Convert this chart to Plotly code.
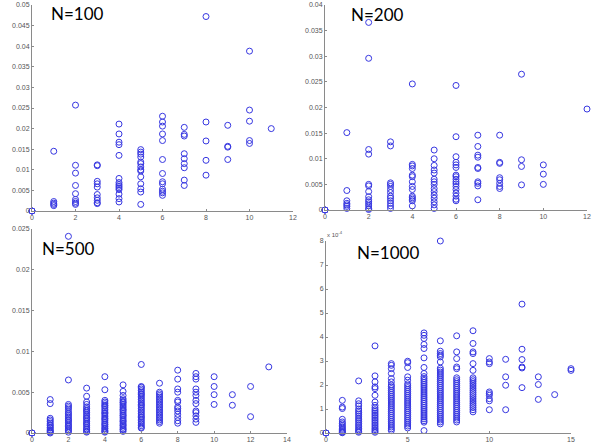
import plotly.graph_objects as go

# ---- data: one list of y-values per integer x (index = x) ----
n100_cols = [
    [0, 0, 0],
    [0.0145, 0.0023, 0.0019, 0.0016, 0.0013],
    [0.0257, 0.0111, 0.0092, 0.0062, 0.0042, 0.0028, 0.0023, 0.0019, 0.0016],
    [0.0112, 0.0110, 0.0072, 0.0066, 0.0058, 0.0040, 0.0032, 0.0026, 0.0020, 0.0018],
    [0.0211, 0.0187, 0.0167, 0.0161, 0.0135, 0.0079, 0.0069, 0.0064, 0.0060, 0.0056, 0.0052, 0.0041, 0.0030, 0.0022],
    [0.0149, 0.0143, 0.0138, 0.0131, 0.0119, 0.0115, 0.0107, 0.0100, 0.0097, 0.0083, 0.0066, 0.0054, 0.0046, 0.0016],
    [0.0230, 0.0216, 0.0206, 0.0187, 0.0171, 0.0125, 0.0091, 0.0071, 0.0066, 0.0053, 0.0048, 0.0044, 0.0038],
    [0.0203, 0.0186, 0.0182, 0.0139, 0.0127, 0.0115, 0.0105, 0.0075, 0.0062],
    [0.0472, 0.0216, 0.0170, 0.0123, 0.0087],
    [0.0208, 0.0157, 0.0155, 0.0125],
    [0.0388, 0.0245, 0.0218, 0.0171, 0.0164],
    [0.0200],
]

n200_cols = [
    [0, 0, 0],
    [0.0151, 0.0038, 0.0018, 0.0013, 0.0010, 0.0007, 0.0003],
    [0.0366, 0.0296, 0.0118, 0.0109, 0.0050, 0.0047, 0.0036, 0.0026, 0.0020, 0.0016, 0.0012, 0.0008, 0.0003, 0.0001],
    [0.0133, 0.0125, 0.0053, 0.0050, 0.0046, 0.0040, 0.0034, 0.0027, 0.0023, 0.0018, 0.0013, 0.0008, 0.0003],
    [0.0246, 0.0089, 0.0086, 0.0081, 0.0068, 0.0065, 0.0055, 0.0046, 0.0040, 0.0027, 0.0024, 0.0021, 0.0018, 0.0008],
    [0.0117, 0.0100, 0.0087, 0.0078, 0.0072, 0.0060, 0.0055, 0.0050, 0.0042, 0.0036, 0.0029, 0.0023, 0.0016, 0.0010, 0.0003],
    [0.0243, 0.0143, 0.0104, 0.0093, 0.0088, 0.0083, 0.0068, 0.0065, 0.0060, 0.0055, 0.0051, 0.0046, 0.0040, 0.0033, 0.0027, 0.0021, 0.0018],
    [0.0146, 0.0124, 0.0107, 0.0103, 0.0083, 0.0081, 0.0055, 0.0052, 0.0047, 0.0020],
    [0.0146, 0.0093, 0.0091, 0.0063, 0.0059, 0.0052, 0.0046, 0.0042],
    [0.0265, 0.0098, 0.0085, 0.0049],
    [0.0088, 0.0070, 0.0050],
    [],
    [0.0197],
]

n500_cols = [
    [0, 0, 0],
    [0.0041, 0.0036, 0.0018, 0.0016, 0.0014, 0.0012, 0.0010, 0.0009, 0.0007, 0.0006, 0.0004, 0.0003, 0.0002, 0.0001, 0.0000],
    [0.0241, 0.0065, 0.0035, 0.0033, 0.0031, 0.0029, 0.0026, 0.0024, 0.0022, 0.0020, 0.0018, 0.0016, 0.0015, 0.0013, 0.0011, 0.0009, 0.0008, 0.0006, 0.0004, 0.0003, 0.0001],
    [0.0055, 0.0045, 0.0038, 0.0035, 0.0032, 0.0030, 0.0028, 0.0027, 0.0025, 0.0023, 0.0021, 0.0019, 0.0018, 0.0016, 0.0014, 0.0012, 0.0011, 0.0009, 0.0007, 0.0005, 0.0004, 0.0002, 0.0001],
    [0.0069, 0.0053, 0.0040, 0.0038, 0.0036, 0.0034, 0.0033, 0.0031, 0.0029, 0.0027, 0.0025, 0.0024, 0.0022, 0.0020, 0.0018, 0.0017, 0.0015, 0.0013, 0.0011, 0.0010, 0.0008, 0.0006, 0.0005, 0.0003, 0.0002, 0.0001],
    [0.0059, 0.0051, 0.0046, 0.0042, 0.0040, 0.0038, 0.0037, 0.0035, 0.0033, 0.0031, 0.0029, 0.0028, 0.0026, 0.0024, 0.0022, 0.0021, 0.0019, 0.0017, 0.0015, 0.0014, 0.0012, 0.0010, 0.0009, 0.0007, 0.0005, 0.0004, 0.0002],
    [0.0084, 0.0057, 0.0056, 0.0054, 0.0052, 0.0050, 0.0048, 0.0047, 0.0045, 0.0043, 0.0041, 0.0039, 0.0037, 0.0035, 0.0034, 0.0032, 0.0030, 0.0028, 0.0026, 0.0024, 0.0022, 0.0020, 0.0019, 0.0017, 0.0015, 0.0013, 0.0011, 0.0009, 0.0007, 0.0006],
    [0.0061, 0.0050, 0.0048, 0.0046, 0.0044, 0.0042, 0.0040, 0.0038, 0.0036, 0.0034, 0.0032, 0.0030, 0.0028, 0.0026, 0.0024, 0.0022, 0.0020, 0.0018, 0.0016, 0.0014, 0.0012],
    [0.0077, 0.0066, 0.0054, 0.0050, 0.0040, 0.0038, 0.0032, 0.0030, 0.0027, 0.0023, 0.0019, 0.0015, 0.0012],
    [0.0073, 0.0069, 0.0066, 0.0054, 0.0050, 0.0046, 0.0040, 0.0036, 0.0027, 0.0025, 0.0021, 0.0017, 0.0013],
    [0.0069, 0.0057, 0.0047, 0.0035],
    [0.0047, 0.0034],
    [0.0057, 0.0020],
    [0.0081],
]

# N=1000 values in units of 1e-4
n1000_cols_e4 = [
    [0, 0, 0],
    [1.36, 1.08, 1.02, 0.57, 0.46, 0.39, 0.32, 0.26, 0.20, 0.15, 0.10, 0.06, 0.03, 0.01],
    [2.17, 1.34, 1.22, 1.13, 1.00, 0.92, 0.85, 0.78, 0.70, 0.62, 0.55, 0.48, 0.40, 0.33, 0.26, 0.19, 0.13, 0.07, 0.03],
    [3.63, 2.38, 2.13, 1.92, 1.85, 1.57, 1.29, 1.15, 1.05, 0.97, 0.90, 0.83, 0.76, 0.69, 0.62, 0.55, 0.48, 0.41, 0.34, 0.27, 0.20, 0.14, 0.08, 0.03],
    [2.89, 2.82, 2.68, 2.48, 2.27, 2.13, 2.00, 1.93, 1.85, 1.77, 1.69, 1.61, 1.53, 1.45, 1.37, 1.29, 1.21, 1.13, 1.05, 0.97, 0.89, 0.81, 0.73, 0.65, 0.57, 0.49, 0.41, 0.33, 0.25, 0.17, 0.10],
    [2.99, 2.93, 2.73, 2.34, 2.20, 2.05, 1.97, 1.89, 1.81, 1.73, 1.65, 1.57, 1.49, 1.41, 1.33, 1.25, 1.17, 1.09, 1.01, 0.93, 0.85, 0.77, 0.69, 0.61, 0.53, 0.45, 0.37, 0.29, 0.21],
    [4.17, 4.07, 3.94, 3.69, 3.52, 3.13, 2.73, 2.48, 2.35, 2.27, 2.19, 2.11, 2.03, 1.95, 1.87, 1.79, 1.71, 1.63, 1.55, 1.47, 1.39, 1.31, 1.23, 1.15, 1.07, 0.99, 0.91, 0.83, 0.75, 0.67, 0.59, 0.51, 0.45, 0.10],
    [8.00, 3.84, 3.41, 3.31, 3.24, 3.17, 2.96, 2.70, 2.62, 2.54, 2.46, 2.38, 2.30, 2.22, 2.14, 2.06, 1.98, 1.90, 1.82, 1.74, 1.66, 1.58, 1.50, 1.42, 1.34, 1.26, 1.18, 1.10, 1.02, 0.94, 0.86, 0.78, 0.70, 0.62, 0.54, 0.46, 0.38],
    [4.05, 3.38, 3.10, 2.75, 2.68, 2.30, 2.22, 2.14, 2.06, 1.98, 1.90, 1.82, 1.74, 1.66, 1.58, 1.50, 1.42, 1.34, 1.26, 1.18, 1.10, 1.02, 0.94, 0.86, 0.78, 0.70, 0.62, 0.54, 0.46],
    [4.26, 3.73, 3.38, 3.31, 2.89, 2.61, 2.30, 2.22, 2.14, 2.05, 1.96, 1.87, 1.78, 1.69, 1.60, 1.51, 1.42, 1.33, 1.24, 1.15, 1.06, 0.97, 0.88],
    [3.10, 2.96, 2.89, 1.71, 1.64, 1.57, 1.43, 1.34, 0.97],
    [3.07, 2.34, 1.99, 0.97],
    [5.37, 3.49, 3.06, 2.75, 2.71, 1.89],
    [2.34, 2.02, 1.40],
    [1.60],
    [2.68, 2.61],
]

panel_titles = ["N=100", "N=200", "N=500", "N=1000"]

# tick labels
y1_ticks = [0, 0.005, 0.01, 0.015, 0.02, 0.025, 0.03, 0.035, 0.04, 0.045, 0.05]
y2_ticks = [0, 0.005, 0.01, 0.015, 0.02, 0.025, 0.03, 0.035, 0.04]
y3_ticks = [0, 0.005, 0.01, 0.015, 0.02, 0.025]
y4_ticks = [0, 1, 2, 3, 4, 5, 6, 7, 8]
x1_ticks = [0, 2, 4, 6, 8, 10, 12]
x3_ticks = [0, 2, 4, 6, 8, 10, 12, 14]
x4_ticks = [0, 5, 10, 15]


def flatten(cols):
    xs, ys = [], []
    for x, col in enumerate(cols):
        for v in col:
            xs.append(x)
            ys.append(v)
    return xs, ys


W, H = 592, 445
def dx(a, b):
    return [a / W, b / W]
def dy(top, bottom):
    return [(H - bottom) / H, (H - top) / H]

fig = go.Figure()
blue = "rgb(55,55,225)"
panels = [
    (n100_cols, "x", "y"),
    (n200_cols, "x2", "y2"),
    (n500_cols, "x3", "y3"),
    (n1000_cols_e4, "x4", "y4"),
]
for cols, xa, ya in panels:
    xs, ys = flatten(cols)
    fig.add_trace(go.Scatter(
        x=xs, y=ys, xaxis=xa, yaxis=ya, mode="markers",
        marker=dict(symbol="circle-open", size=6, color=blue, line=dict(width=1, color=blue)),
        cliponaxis=False, showlegend=False, hoverinfo="skip",
    ))

tickfont = dict(family="Liberation Sans, Arial, sans-serif", size=7, color="#555555")
axis_common = dict(
    showgrid=False, zeroline=False, showline=True, linecolor="#8a8a8a", linewidth=1,
    ticks="inside", ticklen=2, tickcolor="#8a8a8a", tickfont=tickfont, automargin=False,
)

def fmt(v):
    return "%g" % v

fig.update_layout(
    width=W, height=H, margin=dict(l=0, r=0, t=0, b=0),
    paper_bgcolor="white", plot_bgcolor="white",
    xaxis=dict(domain=dx(32, 293), range=[0, 12], tickvals=x1_ticks, ticktext=[fmt(v) for v in x1_ticks], anchor="y", **axis_common),
    yaxis=dict(domain=dy(5, 211), range=[0, 0.05], tickvals=y1_ticks, ticktext=[fmt(v) for v in y1_ticks], anchor="x", **axis_common),
    xaxis2=dict(domain=dx(325, 587), range=[0, 12], tickvals=x1_ticks, ticktext=[fmt(v) for v in x1_ticks], anchor="y2", **axis_common),
    yaxis2=dict(domain=dy(5, 210), range=[0, 0.04], tickvals=y2_ticks, ticktext=[fmt(v) for v in y2_ticks], anchor="x2", **axis_common),
    xaxis3=dict(domain=dx(32, 287), range=[0, 14], tickvals=x3_ticks, ticktext=[fmt(v) for v in x3_ticks], anchor="y3", **axis_common),
    yaxis3=dict(domain=dy(229, 433), range=[0, 0.025], tickvals=y3_ticks, ticktext=[fmt(v) for v in y3_ticks], anchor="x3", **axis_common),
    xaxis4=dict(domain=dx(326, 571), range=[0, 15], tickvals=x4_ticks, ticktext=[fmt(v) for v in x4_ticks], anchor="y4", **axis_common),
    yaxis4=dict(domain=dy(241, 433), range=[0, 8], tickvals=y4_ticks, ticktext=[fmt(v) for v in y4_ticks], anchor="x4", **axis_common),
)

title_font = dict(family="Lato, Open Sans, sans-serif", size=17, color="black")
title_pos = [(78, 14), (377, 15), (68, 248), (388, 252)]
for t, (px, py) in zip(panel_titles, title_pos):
    fig.add_annotation(x=px / W, y=(H - py) / H, xref="paper", yref="paper",
                       text=t, showarrow=False, font=title_font,
                       xanchor="center", yanchor="middle")

fig.add_annotation(x=325 / W, y=(H - 234) / H, xref="paper", yref="paper",
                   text="x 10<sup>-4</sup>", showarrow=False,
                   font=dict(family="Liberation Sans, Arial, sans-serif", size=6, color="#555555"),
                   xanchor="left", yanchor="middle")

fig.write_html("out.html", config={"displayModeBar": False},
               post_script="document.body.style.margin='0';document.body.style.overflow='hidden';")
